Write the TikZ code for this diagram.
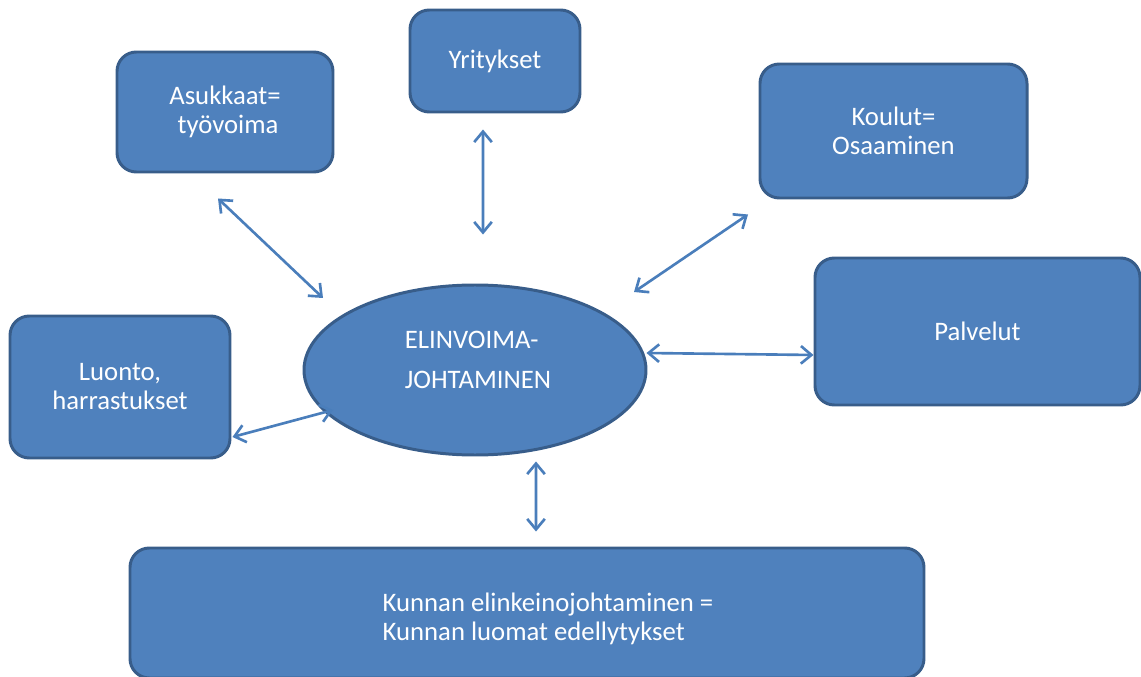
\documentclass[tikz,border=0pt]{standalone}
\usepackage{fontspec}
\setmainfont{Carlito}
\usetikzlibrary{shapes.geometric,arrows.meta}
\definecolor{laatikko}{HTML}{4F81BD}
\definecolor{reuna}{HTML}{385D8A}
\definecolor{nuolivari}{HTML}{4A7EBB}
\begin{document}
\begin{tikzpicture}[
    teksti/.style={text=white,font=\fontsize{15.2}{16.5}\selectfont,inner sep=0pt},
    laatikko/.style={teksti,draw=reuna,fill=laatikko,line width=1.7pt,rounded corners=11pt,align=center},
    soikio/.style={draw=reuna,fill=laatikko,line width=1.7pt,ellipse,inner sep=0pt},
    nuoli/.style={draw=nuolivari,line width=1.5pt,{Straight Barb[length=6pt,width=10pt,line width=1.5pt]}-{Straight Barb[length=6pt,width=10pt,line width=1.5pt]}}
  ]
        \useasboundingbox (0,0) rectangle (22.82,-13.54);
        \node[soikio,minimum width=6.84cm,minimum height=3.4cm] (elinvoima) at (9.5,-7.4) {};
        \node[teksti,align=left] (elinvoimateksti) at ([xshift=0.06cm,yshift=0.2cm]elinvoima.center) {ELINVOIMA-\\[6pt]JOHTAMINEN};
        \node[laatikko,minimum width=4.32cm,minimum height=2.4cm] (asukkaat) at (4.5,-2.24) {Asukkaat=\\\ työvoima};
        \node[laatikko,minimum width=3.4cm,minimum height=2.04cm] (yritykset) at (9.9,-1.22) {Yritykset};
        \node[laatikko,minimum width=5.34cm,minimum height=2.68cm] (koulut) at (17.87,-2.62) {Koulut=\\Osaaminen};
        \node[laatikko,minimum width=6.5cm,minimum height=2.94cm] (palvelut) at (19.55,-6.63) {Palvelut};
        \node[laatikko,minimum width=4.4cm,minimum height=2.84cm] (luonto) at (2.4,-7.74) {Luonto,\\harrastukset};
        \node[laatikko,minimum width=15.88cm,minimum height=2.6cm] (kunta) at (10.54,-12.26) {};
        \node[teksti,align=left] (kuntateksti) at ([xshift=0.42cm,yshift=-0.12cm]kunta.center) {Kunnan elinkeinojohtaminen =\\Kunnan luomat edellytykset};
        \draw[nuoli] ([xshift=-0.14cm,yshift=-0.5cm]asukkaat.south) -- ([xshift=-3.04cm,yshift=1.44cm]elinvoima.center);
        \draw[nuoli] ([xshift=-0.24cm,yshift=-0.32cm]yritykset.south) -- ([xshift=0.16cm,yshift=0.98cm]elinvoima.north);
        \draw[nuoli] ([xshift=-2.91cm,yshift=-0.3cm]koulut.south) -- ([xshift=3.18cm,yshift=1.56cm]elinvoima.center);
        \draw[nuoli] ([yshift=-0.47cm]palvelut.west) -- ([xshift=-0.02cm,yshift=0.34cm]elinvoima.east);
        \draw[nuoli] ([xshift=0.02cm,yshift=-1cm]luonto.east) -- ([xshift=-2.84cm,yshift=-0.8cm]elinvoima.center);
        \draw[nuoli] ([xshift=1.22cm,yshift=-0.1cm]elinvoima.south) -- ([xshift=0.18cm,yshift=0.3cm]kunta.north);
    \end{tikzpicture}
\end{document}
